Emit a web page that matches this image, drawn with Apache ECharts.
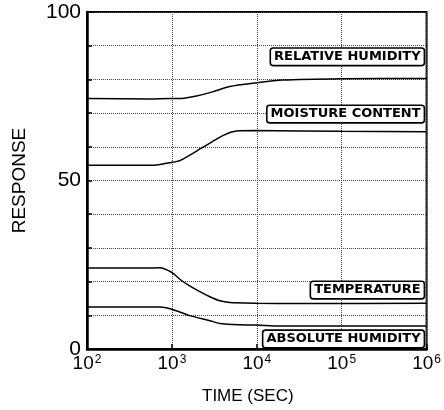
<!DOCTYPE html>
<html>
<head>
<meta charset="utf-8">
<script src="https://cdn.jsdelivr.net/npm/echarts@6/dist/echarts.min.js"></script>
<style>html,body{margin:0;padding:0;background:#fff}#c{width:444px;height:410px}</style>
</head>
<body>
<div id="c"></div>
<script>
// ---- data ----
const rhTime = [100, 550, 950, 1240, 1950, 3020, 4790, 10000, 20000, 100000, 1000000];
const rhValue = [74.3, 74.2, 74.3, 74.3, 75.1, 76.3, 77.9, 79.0, 79.8, 80.2, 80.3];

const mcTime = [100, 550, 660, 950, 1240, 2300, 3970, 5800, 10000, 100000, 1000000];
const mcValue = [54.5, 54.5, 54.6, 55.3, 55.9, 59.8, 63.3, 64.7, 64.8, 64.6, 64.5];

const tpTime = [100, 500, 720, 1000, 1240, 1620, 2130, 2800, 3660, 4800, 10000, 30000, 1000000];
const tpValue = [24.0, 24.0, 24.1, 22.7, 20.7, 18.7, 17.0, 15.5, 14.3, 13.8, 13.6, 13.5, 13.6];

const ahTime = [100, 720, 1000, 1620, 2800, 3660, 6300, 10000, 18600, 1000000];
const ahValue = [12.5, 12.5, 11.8, 9.9, 8.4, 7.6, 7.2, 7.1, 6.8, 6.8];

const seriesNames = ['RELATIVE HUMIDITY', 'MOISTURE CONTENT', 'TEMPERATURE', 'ABSOLUTE HUMIDITY'];
const labelLevels = [86.7, 69.7, 17.5, 3.0];

const xMin = 100, xMax = 1000000;
const yMin = 0, yMax = 100, yStep = 10;
const yLabelled = [0, 50, 100];
const xTitle = 'TIME (SEC)';
const yTitle = 'RESPONSE';

const chart = echarts.init(document.getElementById('c'), null, {renderer: 'canvas'});
const zip = (t, v) => t.map((x, i) => [x, v[i]]);
const allData = [zip(rhTime, rhValue), zip(mcTime, mcValue), zip(tpTime, tpValue), zip(ahTime, ahValue)];

const labelStyle = {
  show: true,
  position: 'left',
  distance: 3,
  formatter: '{b}',
  color: '#000',
  fontFamily: 'DejaVu Sans',
  fontWeight: 'bold',
  fontSize: 13,
  lineHeight: 13,
  backgroundColor: '#fff',
  borderColor: '#000',
  borderWidth: 1.6,
  borderRadius: 2,
  padding: [2, 3, 1, 3]
};

const series = allData.map((d, i) => ({
  name: seriesNames[i],
  type: 'line',
  data: d,
  showSymbol: false,
  smooth: 0.25,
  lineStyle: {color: '#000', width: 1.5},
  z: 3,
  markPoint: {
    symbol: 'rect',
    symbolSize: 0,
    silent: true,
    label: labelStyle,
    data: [{name: seriesNames[i], coord: [xMax, labelLevels[i]]}]
  }
}));

chart.setOption({
  animation: false,
  backgroundColor: '#fff',
  grid: {left: 87, right: 17, top: 12, bottom: 60, show: true, borderColor: '#000', borderWidth: 2, backgroundColor: 'transparent'},
  xAxis: {
    type: 'log',
    logBase: 10,
    min: xMin,
    max: xMax,
    name: xTitle,
    nameLocation: 'middle',
    nameGap: 39,
    nameTextStyle: {fontFamily: 'Liberation Sans', fontSize: 17, color: '#000', padding: [0, 18, 0, 0]},
    axisLine: {show: true, lineStyle: {color: '#000', width: 2.5}},
    axisTick: {show: true, inside: true, length: 5, lineStyle: {color: '#000', width: 1.5}},
    minorTick: {show: false},
    splitLine: {show: true, lineStyle: {color: '#444', type: 'dotted', width: 1}},
    axisLabel: {
      margin: 5,
      color: '#000',
      formatter: v => '{b|10}{s|' + Math.round(Math.log10(v)) + '}',
      rich: {
        b: {fontFamily: 'Liberation Sans', fontSize: 19, lineHeight: 20, color: '#000'},
        s: {fontFamily: 'Liberation Sans', fontSize: 12, verticalAlign: 'top', color: '#000', padding: [0, 0, 0, 1]}
      }
    }
  },
  yAxis: {
    type: 'value',
    min: yMin,
    max: yMax,
    interval: yStep,
    name: yTitle,
    nameLocation: 'middle',
    nameRotate: 90,
    nameGap: 58,
    nameTextStyle: {fontFamily: 'Liberation Sans', fontSize: 19, color: '#000'},
    axisLine: {show: true, lineStyle: {color: '#000', width: 2.5}},
    axisTick: {show: true, inside: true, length: 5, lineStyle: {color: '#000', width: 1.5}},
    splitLine: {show: true, lineStyle: {color: '#444', type: 'dotted', width: 1}},
    axisLabel: {
      margin: 6,
      color: '#000',
      fontFamily: 'Liberation Sans',
      fontSize: 21,
      formatter: v => (yLabelled.indexOf(v) >= 0 ? String(v) : '')
    }
  },
  series: series
});
</script>
</body>
</html>
